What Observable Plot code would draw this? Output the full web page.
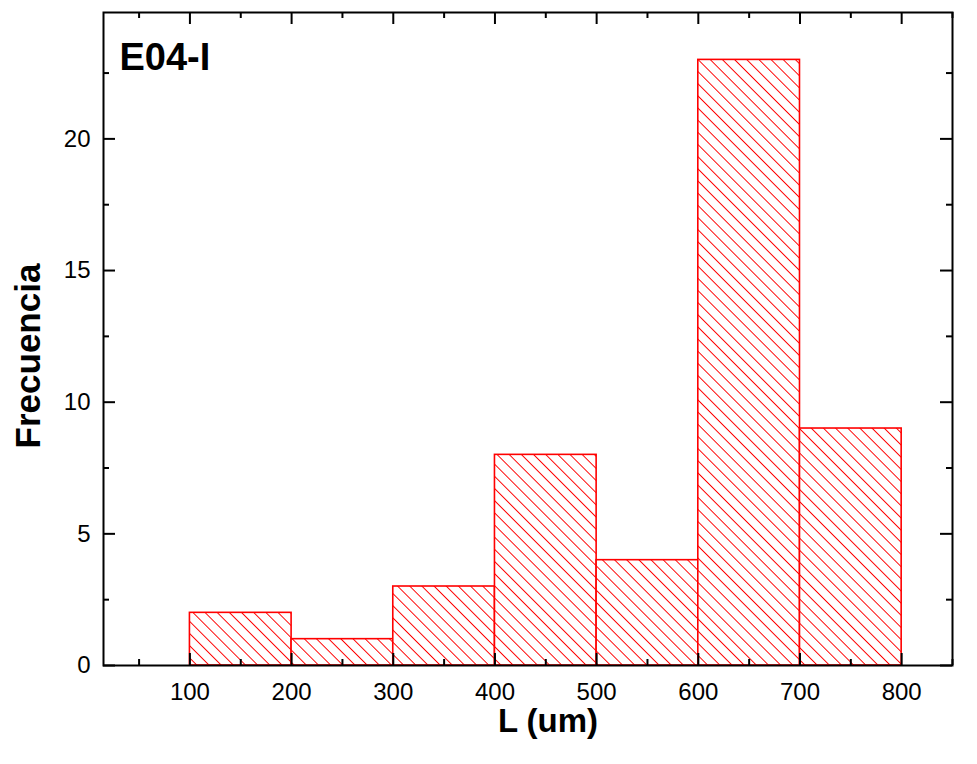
<!DOCTYPE html>
<html>
<head>
<meta charset="utf-8">
<script src="https://cdn.jsdelivr.net/npm/d3@7"></script>
<script src="https://cdn.jsdelivr.net/npm/@observablehq/plot@0.6"></script>
<style>
  html, body { margin: 0; padding: 0; background: #fff; }
</style>
</head>
<body>
<div id="chart"></div>
<script>
// Data
const binStart = [100, 200, 300, 400, 500, 600, 700];
const binEnd   = [200, 300, 400, 500, 600, 700, 800];
const counts   = [2, 1, 3, 8, 4, 23, 9];
const xMajorTicks = [100, 200, 300, 400, 500, 600, 700, 800];
const xMinorTicks = [50, 150, 250, 350, 450, 550, 650, 750, 850];
const yMajorTicks = [0, 5, 10, 15, 20];
const yMinorTicks = [2.5, 7.5, 12.5, 17.5, 22.5];
const title = "E04-I";
const xLabel = "L (um)";
const yLabel = "Frecuencia";

const bins = binStart.map((s, i) => ({lo: s, hi: binEnd[i], count: counts[i]}));

const W = 977, H = 764;
const mL = 103, mR = 25, mT = 12, mB = 99;
const fw = W - mL - mR, fh = H - mT - mB;

const font = "'Liberation Sans', Arial, Helvetica, sans-serif";

const chart = Plot.plot({
  width: W, height: H,
  marginLeft: mL, marginRight: mR, marginTop: mT, marginBottom: mB,
  x: {domain: [15, 850], axis: null},
  y: {domain: [0, 24.8], axis: null},
  style: {fontFamily: font, fontSize: "24px", color: "black", background: "white"},
  marks: [
    Plot.rect(bins, {x1: "lo", x2: "hi", y1: 0, y2: "count", fill: "url(#hatch)", stroke: "#ff0000", strokeWidth: 1.6}),
    // ticks inward: bottom & top
    Plot.ruleX(xMajorTicks, {x: d => d, insetTop: fh - 12, stroke: "black", strokeWidth: 2}),
    Plot.ruleX(xMinorTicks, {x: d => d, insetTop: fh - 6, stroke: "black", strokeWidth: 2}),
    Plot.ruleX(xMajorTicks, {x: d => d, insetBottom: fh - 12, stroke: "black", strokeWidth: 2}),
    Plot.ruleX(xMinorTicks, {x: d => d, insetBottom: fh - 6, stroke: "black", strokeWidth: 2}),
    // ticks inward: left & right
    Plot.ruleY(yMajorTicks, {y: d => d, insetRight: fw - 12, stroke: "black", strokeWidth: 2}),
    Plot.ruleY(yMinorTicks, {y: d => d, insetRight: fw - 6, stroke: "black", strokeWidth: 2}),
    Plot.ruleY(yMajorTicks, {y: d => d, insetLeft: fw - 12, stroke: "black", strokeWidth: 2}),
    Plot.ruleY(yMinorTicks, {y: d => d, insetLeft: fw - 6, stroke: "black", strokeWidth: 2}),
    Plot.frame({stroke: "black", strokeWidth: 2}),
    // tick labels
    Plot.text(xMajorTicks, {x: d => d, frameAnchor: "bottom", dy: 27, text: d => String(d), fontSize: 24, textAnchor: "middle", lineAnchor: "middle", fill: "black"}),
    Plot.text(yMajorTicks, {y: d => d, frameAnchor: "left", dx: -13, text: d => String(d), fontSize: 24, textAnchor: "end", lineAnchor: "middle", fill: "black"}),
    // axis labels and title
    Plot.text([xLabel], {frameAnchor: "bottom", dx: 20, dy: 56, text: d => d, fontSize: 33, fontWeight: "bold", textAnchor: "middle", lineAnchor: "middle", fill: "black"}),
    Plot.text([yLabel], {frameAnchor: "left", dx: -75, dy: 17, rotate: -90, text: d => d, fontSize: 35, fontWeight: "bold", textAnchor: "middle", lineAnchor: "middle", fill: "black"}),
    Plot.text([title], {frameAnchor: "top-left", dx: 16, dy: 45, text: d => d, fontSize: 38, fontWeight: "bold", textAnchor: "start", lineAnchor: "middle", fill: "black"})
  ]
});

// hatch pattern definition
const ns = "http://www.w3.org/2000/svg";
const defs = document.createElementNS(ns, "defs");
const pat = document.createElementNS(ns, "pattern");
pat.setAttribute("id", "hatch");
pat.setAttribute("patternUnits", "userSpaceOnUse");
pat.setAttribute("width", "10");
pat.setAttribute("height", "8.6");
pat.setAttribute("patternTransform", "rotate(45)");
const bg = document.createElementNS(ns, "rect");
bg.setAttribute("width", "10"); bg.setAttribute("height", "8.6"); bg.setAttribute("fill", "white");
const ln = document.createElementNS(ns, "line");
ln.setAttribute("x1", "0"); ln.setAttribute("x2", "10");
ln.setAttribute("y1", "4.3"); ln.setAttribute("y2", "4.3");
ln.setAttribute("stroke", "#ff0000"); ln.setAttribute("stroke-width", "1");
pat.appendChild(bg); pat.appendChild(ln);
defs.appendChild(pat);
chart.insertBefore(defs, chart.firstChild);

document.getElementById("chart").appendChild(chart);
</script>
</body>
</html>
